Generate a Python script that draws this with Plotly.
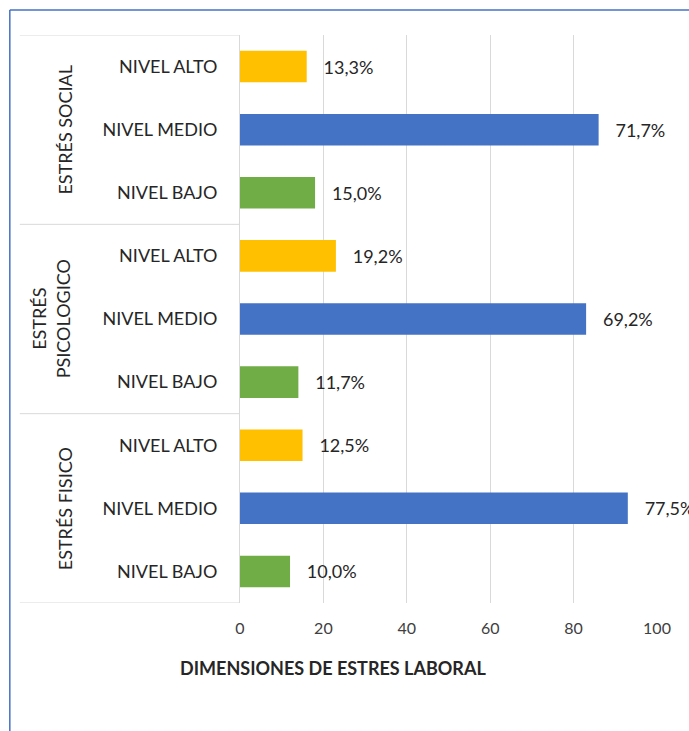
import plotly.graph_objects as go

groups = ["ESTRÉS SOCIAL", "ESTRÉS<br>PSICOLOGICO", "ESTRÉS FISICO"]
levels = ["NIVEL ALTO", "NIVEL MEDIO", "NIVEL BAJO"]
# counts (n = 120) -> bar lengths
counts = {
    "ESTRÉS SOCIAL": [16, 86, 18],
    "ESTRÉS<br>PSICOLOGICO": [23, 83, 14],
    "ESTRÉS FISICO": [15, 93, 12],
}
# percentages shown as labels
pcts = {
    "ESTRÉS SOCIAL": [13.3, 71.7, 15.0],
    "ESTRÉS<br>PSICOLOGICO": [19.2, 69.2, 11.7],
    "ESTRÉS FISICO": [12.5, 77.5, 10.0],
}
level_colors = {"NIVEL ALTO": "#FFC000", "NIVEL MEDIO": "#4472C4", "NIVEL BAJO": "#70AD47"}
x_ticks = [0, 20, 40, 60, 80, 100]
x_title = "DIMENSIONES DE ESTRES LABORAL"

FONT = "Lato"
TXT = "#262626"

ykeys, xs, texts, colors, ticktext = [], [], [], [], []
for g in groups:
    for i, lv in enumerate(levels):
        ykeys.append(g + "|" + lv)
        xs.append(counts[g][i])
        texts.append("\u00a0\u00a0\u00a0" + f"{pcts[g][i]:.1f}".replace(".", ",") + "%")
        colors.append(level_colors[lv])
        ticktext.append(lv)

fig = go.Figure()
fig.add_trace(go.Bar(
    x=xs, y=ykeys, orientation="h",
    marker=dict(color=colors, line=dict(width=0)),
    text=texts, textposition="outside", cliponaxis=False,
    textfont=dict(family=FONT, size=18, color=TXT),
    showlegend=False,
))

n = len(ykeys)
shapes = []
# group separators in the label area
for k in range(len(groups) + 1):
    yv = k * len(levels) - 0.5
    shapes.append(dict(type="line", xref="paper", yref="y", x0=-0.528, x1=0,
                       y0=yv, y1=yv, line=dict(color="#D9D9D9", width=1)))
# blue frame (left and top)
shapes.append(dict(type="line", xref="paper", yref="paper", x0=-0.552, x1=-0.552,
                   y0=1.044, y1=-0.3, line=dict(color="#4472C4", width=1.5)))
shapes.append(dict(type="line", xref="paper", yref="paper", x0=-0.552, x1=1.2,
                   y0=1.044, y1=1.044, line=dict(color="#4472C4", width=1.5)))

annotations = []
group_x = [-0.42, -0.455, -0.42]
for gi, g in enumerate(groups):
    annotations.append(dict(
        x=group_x[gi], xref="paper", y=gi * len(levels) + 1, yref="y",
        text=g, textangle=-90, showarrow=False,
        xanchor="center", yanchor="middle",
        font=dict(family=FONT, size=18, color=TXT),
    ))
annotations.append(dict(
    x=0.223, xref="paper", y=-0.1144, yref="paper", text="<b>" + x_title + "</b>",
    showarrow=False, xanchor="center", yanchor="middle",
    font=dict(family=FONT, size=18, color=TXT),
))

fig.update_layout(
    width=689, height=731,
    margin=dict(l=240, r=32, t=35, b=128),
    paper_bgcolor="white", plot_bgcolor="white",
    bargap=0.5,
    shapes=shapes, annotations=annotations,
    xaxis=dict(range=[0, 100], tickvals=x_ticks, showgrid=True, gridcolor="#D9D9D9",
               gridwidth=1, zeroline=False, showline=False, ticks="",
               tickfont=dict(family=FONT, size=16, color="#404040"), ticklabelstandoff=14),
    yaxis=dict(type="category", categoryorder="array", categoryarray=ykeys,
               range=[n - 0.5, -0.5], tickvals=ykeys, ticktext=ticktext,
               showgrid=False, zeroline=False, showline=True, linecolor="#D9D9D9",
               ticks="", tickfont=dict(family=FONT, size=18, color=TXT),
               ticklabelstandoff=18),
)

fig.write_html("out.html")
